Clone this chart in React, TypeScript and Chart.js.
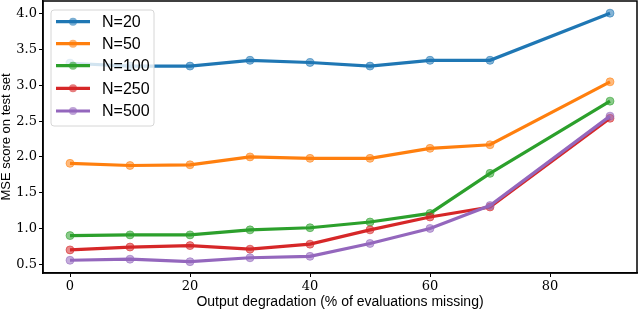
import React, { useEffect, useRef } from "react";
import { Chart, registerables } from "chart.js";

Chart.register(...registerables);

const xValues = [0, 10, 20, 30, 40, 50, 60, 70, 90];
const seriesLabels = ["N=20", "N=50", "N=100", "N=250", "N=500"];
const n20 = [3.31, 3.27, 3.27, 3.35, 3.32, 3.27, 3.35, 3.35, 4.01];
const n50 = [1.91, 1.88, 1.89, 2.0, 1.98, 1.98, 2.12, 2.17, 3.05];
const n100 = [0.9, 0.91, 0.91, 0.98, 1.01, 1.09, 1.21, 1.77, 2.78];
const n250 = [0.7, 0.74, 0.76, 0.71, 0.78, 0.98, 1.16, 1.3, 2.54];
const n500 = [0.555, 0.57, 0.535, 0.59, 0.61, 0.79, 1.0, 1.32, 2.57];
const seriesValues = [n20, n50, n100, n250, n500];
const colors = ["#1f77b4", "#ff7f0e", "#2ca02c", "#d62728", "#9467bd"];
const xTicks = [0, 20, 40, 60, 80];
const yTicks = [0.5, 1.0, 1.5, 2.0, 2.5, 3.0, 3.5, 4.0];
const xTitle = "Output degradation (% of evaluations missing)";
const yTitle = "MSE score on test set";

function withAlpha(hex: string, a: number) {
  const r = parseInt(hex.slice(1, 3), 16);
  const g = parseInt(hex.slice(3, 5), 16);
  const b = parseInt(hex.slice(5, 7), 16);
  return `rgba(${r},${g},${b},${a})`;
}

const framePlugin = {
  id: "frame",
  afterDatasetsDraw(chart: any) {
    const { ctx, chartArea } = chart;
    ctx.save();
    ctx.strokeStyle = "#000";
    ctx.lineWidth = 1.5;
    ctx.strokeRect(chartArea.left, chartArea.top, chartArea.right - chartArea.left, chartArea.bottom - chartArea.top);
    ctx.restore();
  },
};

const legendPlugin = {
  id: "mplLegend",
  afterDraw(chart: any) {
    const { ctx } = chart;
    const x0 = 51, y0 = 10, w = 103, h = 116;
    ctx.save();
    ctx.beginPath();
    const r = 3;
    ctx.moveTo(x0 + r, y0);
    ctx.lineTo(x0 + w - r, y0);
    ctx.quadraticCurveTo(x0 + w, y0, x0 + w, y0 + r);
    ctx.lineTo(x0 + w, y0 + h - r);
    ctx.quadraticCurveTo(x0 + w, y0 + h, x0 + w - r, y0 + h);
    ctx.lineTo(x0 + r, y0 + h);
    ctx.quadraticCurveTo(x0, y0 + h, x0, y0 + h - r);
    ctx.lineTo(x0, y0 + r);
    ctx.quadraticCurveTo(x0, y0, x0 + r, y0);
    ctx.closePath();
    ctx.fillStyle = "rgba(255,255,255,0.8)";
    ctx.fill();
    ctx.strokeStyle = "#d6d6d6";
    ctx.lineWidth = 1;
    ctx.stroke();
    const ys = [21.7, 43.7, 65.7, 88.3, 111];
    seriesLabels.forEach((lab, i) => {
      const y = ys[i];
      ctx.strokeStyle = colors[i];
      ctx.lineWidth = 3.2;
      ctx.beginPath();
      ctx.moveTo(56, y);
      ctx.lineTo(90, y);
      ctx.stroke();
      ctx.beginPath();
      ctx.arc(73, y, 4, 0, Math.PI * 2);
      ctx.fillStyle = withAlpha(colors[i], 0.6);
      ctx.fill();
      ctx.fillStyle = "#000";
      ctx.font = "16px 'Liberation Sans'";
      ctx.textBaseline = "middle";
      ctx.textAlign = "left";
      ctx.fillText(lab, 102, y + 1);
    });
    ctx.restore();
  },
};

export default function App() {
  const ref = useRef<HTMLCanvasElement>(null);
  useEffect(() => {
    document.body.style.margin = "0";
    const chart = new Chart(ref.current!, {
      type: "line",
      data: {
        datasets: seriesValues.map((vals, i) => ({
          label: seriesLabels[i],
          data: xValues.map((x, j) => ({ x, y: vals[j] })),
          borderColor: colors[i],
          backgroundColor: withAlpha(colors[i], 0.6),
          pointBackgroundColor: withAlpha(colors[i], 0.55),
          pointBorderColor: withAlpha(colors[i], 0.55),
          pointRadius: 4,
          pointBorderWidth: 1,
          borderWidth: 3.2,
          tension: 0,
          order: 5 - i,
        })),
      },
      options: {
        animation: false,
        responsive: false,
        maintainAspectRatio: false,
        layout: { autoPadding: false, padding: { top: 1, right: 3, left: 0, bottom: 0 } },
        plugins: { legend: { display: false }, tooltip: { enabled: false } },
        scales: {
          x: {
            type: "linear",
            min: -4.5,
            max: 94.5,
            afterBuildTicks: (s: any) => {
              s.ticks = xTicks.map((v) => ({ value: v }));
            },
            afterFit: (s: any) => {
              s.height = 40;
              s.paddingLeft = 0;
              s.paddingRight = 0;
            },
            grid: { drawOnChartArea: false, drawTicks: true, tickLength: 4, color: "#000" },
            border: { display: true, color: "#000", width: 1.5 },
            ticks: {
              color: "#000",
              padding: 2,
              font: { family: "'DejaVu Serif'", size: 13 },
              callback: (v: any) => String(v),
              maxRotation: 0,
            },
            title: {
              display: true,
              text: xTitle,
              color: "#000",
              font: { family: "'Liberation Sans'", size: 14, lineHeight: 1.2 },
              padding: { top: 0, bottom: 2 },
            },
          },
          y: {
            type: "linear",
            min: 0.377,
            max: 4.18,
            afterBuildTicks: (s: any) => {
              s.ticks = yTicks.map((v) => ({ value: v }));
            },
            afterFit: (s: any) => {
              s.width = 43;
              s.paddingTop = 0;
              s.paddingBottom = 0;
            },
            grid: { drawOnChartArea: false, drawTicks: true, tickLength: 4, color: "#000" },
            border: { display: true, color: "#000", width: 1.5 },
            ticks: {
              color: "#000",
              padding: 2,
              font: { family: "'DejaVu Serif'", size: 13 },
              callback: (v: any) => Number(v).toFixed(1),
            },
            title: {
              display: true,
              text: yTitle,
              color: "#000",
              font: { family: "'Liberation Sans'", size: 13, lineHeight: 1 },
              padding: { top: 0, bottom: 0 },
            },
          },
        },
      },
      plugins: [framePlugin, legendPlugin],
    });
    return () => chart.destroy();
  }, []);
  return <canvas ref={ref} width={640} height={313} style={{ display: "block" }} />;
}
